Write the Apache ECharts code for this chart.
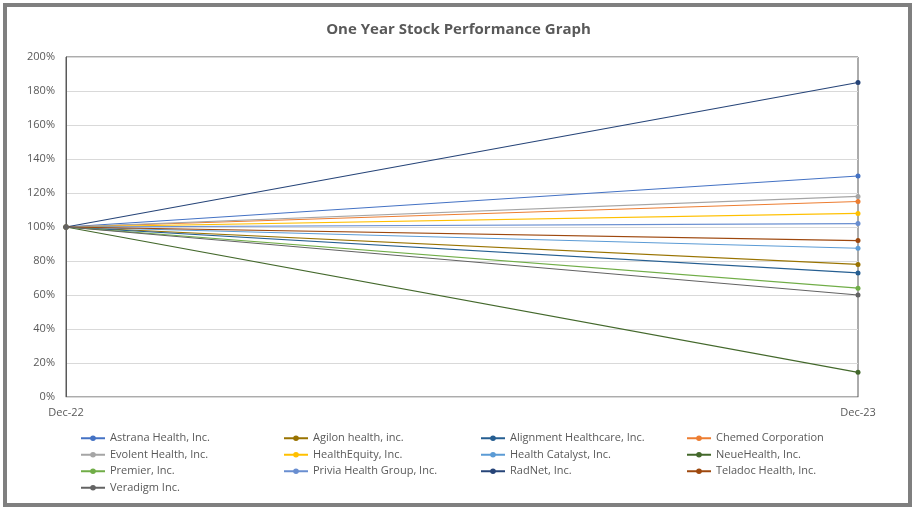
<!DOCTYPE html>
<html>
<head>
<meta charset="utf-8">
<script src="https://cdn.jsdelivr.net/npm/echarts@6/dist/echarts.min.js"></script>
<style>
html,body{margin:0;padding:0;background:#fff;}
#frame{position:absolute;left:3px;top:3px;width:901px;height:496px;border:4px solid #7f7f7f;}
#c{position:absolute;left:0;top:0;width:917px;height:513px;}
</style>
</head>
<body>
<div id="frame"></div>
<div id="c"></div>
<script>
var categories = ['Dec-22', 'Dec-23'];
var seriesNames = ['Astrana Health, Inc.', 'Agilon health, inc.', 'Alignment Healthcare, Inc.', 'Chemed Corporation',
  'Evolent Health, Inc.', 'HealthEquity, Inc.', 'Health Catalyst, Inc.', 'NeueHealth, Inc.',
  'Premier, Inc.', 'Privia Health Group, Inc.', 'RadNet, Inc.', 'Teladoc Health, Inc.', 'Veradigm Inc.'];
var astrana = [100, 130];
var agilon = [100, 78];
var alignment = [100, 73];
var chemed = [100, 115];
var evolent = [100, 118];
var healthEquity = [100, 108];
var healthCatalyst = [100, 87.5];
var neueHealth = [100, 14.5];
var premier = [100, 64];
var privia = [100, 102];
var radnet = [100, 185];
var teladoc = [100, 92];
var veradigm = [100, 60];
var seriesValues = [astrana, agilon, alignment, chemed, evolent, healthEquity, healthCatalyst, neueHealth, premier, privia, radnet, teladoc, veradigm];
var colors = ['#4472C4', '#997300', '#255E91', '#ED7D31', '#A5A5A5', '#FFC000', '#5B9BD5', '#43682B', '#70AD47', '#698ED0', '#264478', '#9E480E', '#636363'];
var yTicks = [0, 20, 40, 60, 80, 100, 120, 140, 160, 180, 200];

var font = 'Open Sans';
var legendCols = [80, 283, 480, 686];
var legends = legendCols.map(function (x, c) {
  var names = seriesNames.filter(function (n, i) { return i % 4 === c; });
  return {
    orient: 'vertical', left: x, top: 432, padding: 0,
    itemWidth: 24, itemHeight: 7, itemGap: 4,
    textStyle: {fontFamily: font, fontSize: 11, color: '#595959', lineHeight: 12.5},
    data: names
  };
});

var chart = echarts.init(document.getElementById('c'));
chart.setOption({
  animation: false,
  color: colors,
  title: {
    text: 'One Year Stock Performance Graph',
    left: 'center', top: 17,
    textStyle: {fontFamily: font, fontSize: 15, fontWeight: 'bold', color: '#595959'}
  },
  grid: {left: 66, right: 59, top: 57, bottom: 116, show: true, borderColor: '#595959', borderWidth: 1, backgroundColor: 'transparent'},
  xAxis: {
    type: 'category', data: categories, boundaryGap: false,
    axisLine: {lineStyle: {color: '#D9D9D9'}},
    axisTick: {show: false},
    axisLabel: {fontFamily: font, fontSize: 11, color: '#595959', margin: 10}
  },
  yAxis: {
    type: 'value', min: yTicks[0], max: yTicks[yTicks.length - 1], interval: 20,
    axisLine: {show: true, lineStyle: {color: '#595959'}},
    axisTick: {show: false},
    splitLine: {lineStyle: {color: '#D9D9D9'}},
    axisLabel: {fontFamily: font, fontSize: 11, color: '#595959', margin: 11, formatter: '{value}%'}
  },
  legend: legends,
  series: seriesNames.map(function (n, i) {
    return {
      name: n, type: 'line', data: seriesValues[i],
      symbol: 'circle', symbolSize: 5,
      lineStyle: {width: 1.2, color: colors[i]},
      itemStyle: {color: colors[i]}
    };
  })
});
</script>
</body>
</html>
